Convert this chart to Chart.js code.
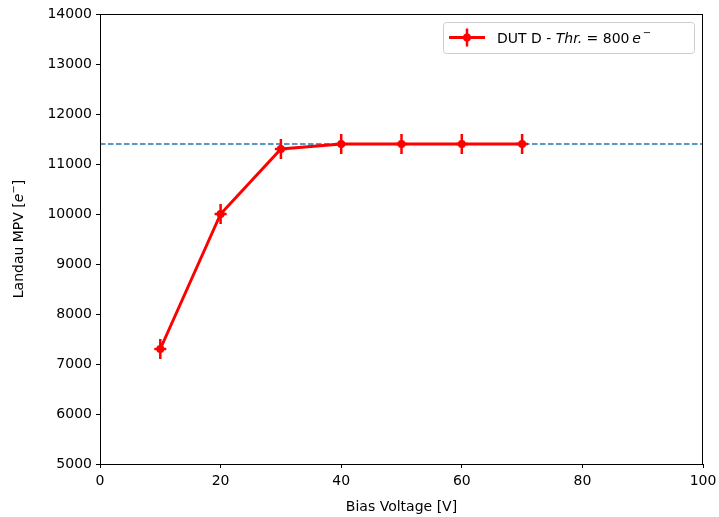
<!DOCTYPE html>
<html>
<head>
<meta charset="utf-8">
<script src="https://cdn.jsdelivr.net/npm/chart.js@4/dist/chart.umd.min.js"></script>
<style>
  html, body { margin: 0; padding: 0; background: #fff; }
  #wrap { width: 719px; height: 517px; }
</style>
</head>
<body>
<div id="wrap"><canvas id="chart" width="719" height="517"></canvas></div>
<script>
const biasVoltage = [10, 20, 30, 40, 50, 60, 70];
const landauMpv = [7300, 10000, 11300, 11400, 11400, 11400, 11400];
const mpvError = [200, 200, 200, 200, 200, 200, 200];
const voltageError = [1, 1, 1, 1, 1, 1, 1];
const plateauLevel = 11400;
const xTicks = [0, 20, 40, 60, 80, 100];
const yTicks = [5000, 6000, 7000, 8000, 9000, 10000, 11000, 12000, 13000, 14000];

const FONT = '"DejaVu Sans", sans-serif';
const RED = '#ff0000';

// draw a run of text pieces with their own font / vertical offset
function drawRich(ctx, parts, x, y) {
    let cx = x;
    parts.forEach(p => {
        ctx.font = p.font;
        ctx.fillText(p.text, cx, y + (p.dy || 0));
        cx += ctx.measureText(p.text).width;
    });
    return cx;
}
function richWidth(ctx, parts) {
    let w = 0;
    parts.forEach(p => { ctx.font = p.font; w += ctx.measureText(p.text).width; });
    return w;
}

const extras = {
    id: 'extras',
    beforeDatasetsDraw(chart) {
        const { ctx, chartArea: a, scales: { x, y } } = chart;
        // dashed plateau line
        ctx.save();
        ctx.strokeStyle = '#1f77b4';
        ctx.lineWidth = 1.5;
        ctx.setLineDash([5.5, 2.5]);
        const py = y.getPixelForValue(plateauLevel);
        ctx.beginPath();
        ctx.moveTo(a.left, py);
        ctx.lineTo(a.right, py);
        ctx.stroke();
        ctx.restore();
    },
    afterDatasetsDraw(chart) {
        const { ctx, scales: { x, y } } = chart;
        ctx.save();
        ctx.strokeStyle = RED;
        ctx.lineWidth = 2.5;
        biasVoltage.forEach((v, i) => {
            const px = x.getPixelForValue(v);
            const py = y.getPixelForValue(landauMpv[i]);
            ctx.beginPath();
            ctx.moveTo(px, y.getPixelForValue(landauMpv[i] - mpvError[i]));
            ctx.lineTo(px, y.getPixelForValue(landauMpv[i] + mpvError[i]));
            ctx.moveTo(x.getPixelForValue(v - voltageError[i]), py);
            ctx.lineTo(x.getPixelForValue(v + voltageError[i]), py);
            ctx.stroke();
        });
        ctx.restore();
    },
    afterDraw(chart) {
        const { ctx, chartArea: a } = chart;
        ctx.save();
        // frame
        ctx.strokeStyle = '#000';
        ctx.lineWidth = 1;
        ctx.strokeRect(a.left + 0.5, a.top + 0.5, a.right - a.left - 1, a.bottom - a.top);

        ctx.fillStyle = '#000';
        ctx.textBaseline = 'alphabetic';
        // x title
        ctx.font = '14px ' + FONT;
        ctx.textAlign = 'center';
        ctx.fillText('Bias Voltage [V]', (a.left + a.right) / 2, 511);

        // y title
        ctx.textAlign = 'left';
        const yParts = [
            { text: 'Landau MPV [', font: '14px ' + FONT },
            { text: 'e', font: 'italic 14px ' + FONT },
            { text: '\u2212', font: '10px ' + FONT, dy: -6 },
            { text: ']', font: '14px ' + FONT }
        ];
        ctx.translate(23, (a.top + a.bottom) / 2);
        ctx.rotate(-Math.PI / 2);
        drawRich(ctx, yParts, -richWidth(ctx, yParts) / 2, 0);
        ctx.setTransform(1, 0, 0, 1, 0, 0);

        // legend
        const lx = 443, ly = 22, lw = 251, lh = 31;
        ctx.fillStyle = 'rgba(255,255,255,0.8)';
        ctx.strokeStyle = '#cccccc';
        ctx.lineWidth = 1;
        ctx.beginPath();
        ctx.roundRect(lx + 0.5, ly + 0.5, lw, lh, 3);
        ctx.fill();
        ctx.stroke();
        const gy = ly + lh / 2;
        ctx.strokeStyle = RED;
        ctx.lineWidth = 3;
        ctx.beginPath();
        ctx.moveTo(lx + 6, gy);
        ctx.lineTo(lx + 42, gy);
        ctx.stroke();
        ctx.lineWidth = 2.5;
        ctx.beginPath();
        ctx.moveTo(lx + 24, gy - 9);
        ctx.lineTo(lx + 24, gy + 9);
        ctx.stroke();
        ctx.fillStyle = RED;
        ctx.beginPath();
        ctx.arc(lx + 24, gy, 4, 0, Math.PI * 2);
        ctx.fill();

        ctx.fillStyle = '#000';
        drawRich(ctx, [
            { text: 'DUT D - ', font: '14px ' + FONT },
            { text: 'Thr.', font: 'italic 14px ' + FONT },
            { text: ' = 800\u2009', font: '14px ' + FONT },
            { text: 'e', font: 'italic 14px ' + FONT },
            { text: '\u2009\u2212', font: '10px ' + FONT, dy: -7 }
        ], lx + 54, gy + 5);
        ctx.restore();
    }
};

new Chart(document.getElementById('chart'), {
    type: 'line',
    data: {
        datasets: [{
            label: 'DUT D',
            data: biasVoltage.map((v, i) => ({ x: v, y: landauMpv[i] })),
            borderColor: RED,
            backgroundColor: RED,
            borderWidth: 3,
            pointRadius: 4,
            pointBorderWidth: 0,
            tension: 0
        }]
    },
    options: {
        responsive: false,
        animation: false,
        layout: { padding: { top: 14, right: 16, left: 0, bottom: 0 } },
        plugins: { legend: { display: false }, tooltip: { enabled: false } },
        scales: {
            x: {
                type: 'linear',
                min: 0, max: 100,
                afterBuildTicks: s => { s.ticks = xTicks.map(v => ({ value: v })); },
                afterFit: s => { s.height = 53; s.paddingLeft = 0; s.paddingRight = 0; },
                grid: { drawOnChartArea: false, tickLength: 4, color: '#000' },
                border: { display: false },
                ticks: { color: '#000', font: { family: FONT, size: 14 }, padding: 5, maxRotation: 0,
                         callback: v => String(v) }
            },
            y: {
                min: 5000, max: 14000,
                afterBuildTicks: s => { s.ticks = yTicks.map(v => ({ value: v })); },
                afterFit: s => { s.width = 100; s.paddingTop = 0; s.paddingBottom = 0; },
                grid: { drawOnChartArea: false, tickLength: 4, color: '#000' },
                border: { display: false },
                ticks: { color: '#000', font: { family: FONT, size: 14 }, padding: 4,
                         callback: v => String(v) }
            }
        }
    },
    plugins: [extras]
});
</script>
</body>
</html>
